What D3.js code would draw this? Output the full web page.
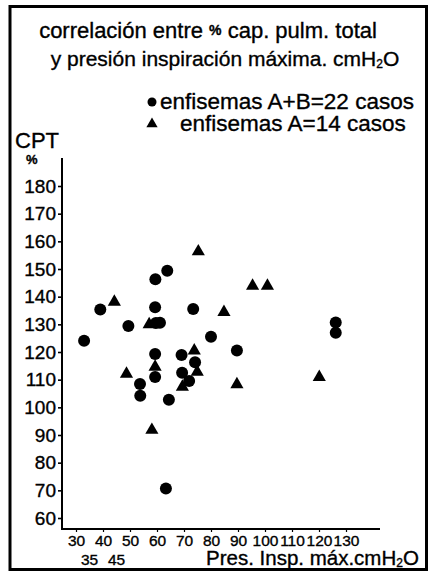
<!DOCTYPE html>
<html><head><meta charset="utf-8">
<script src="https://cdn.jsdelivr.net/npm/d3@7"></script>
<style>
html,body{margin:0;padding:0;background:#fff;}
svg{display:block;font-family:"Liberation Sans", Arial, Helvetica, sans-serif;}
svg text{stroke:#000;stroke-width:0.35px;}
</style></head><body>
<svg id="chart" width="428" height="572"></svg>
<script>
// ---- data ----
const titleLine1 = ["correlación entre ", "%", " cap. pulm. total"];
const titleLine2 = ["y presión inspiración máxima. cmH", "2", "O"];
const legendNames = ["enfisemas A+B=22 casos", "enfisemas A=14 casos"];
const yAxisTitle = ["CPT", "%"];
const xAxisTitle = ["Pres. Insp. máx.cmH", "2", "O"];
const yTicks = [60, 70, 80, 90, 100, 110, 120, 130, 140, 150, 160, 170, 180];
const xTicks = [30, 40, 50, 60, 70, 80, 90, 100, 110, 120, 130];
const xTicksSecondRow = [35, 45];

// enfisemas A+B (circles): presión insp. máx (cmH2O), CPT (%)
const circlesX = [33, 39, 49.4, 59.4, 63.8, 59.3, 73.4, 59.6, 61.1, 80, 89.6, 59.3, 69.1, 74.1, 69.3, 71.9, 59.3, 53.7, 53.8, 64.4, 63.3, 126.2, 126.2];
const circlesY = [124.1, 135.4, 129.4, 146.3, 149.4, 136.2, 135.5, 130.5, 130.6, 125.5, 120.5, 119.3, 118.9, 116.3, 112.5, 109.5, 111, 108.4, 104.2, 102.7, 70.7, 130.7, 127];
// enfisemas A (triangles)
const trianglesX = [75.3, 95.4, 100.9, 44.2, 84.8, 57.1, 73.8, 59.3, 48.7, 74.9, 69.4, 89.6, 120.1, 58.1];
const trianglesY = [156.3, 143.9, 143.9, 138.1, 134.4, 130, 120.5, 114.6, 112.1, 112.8, 107.4, 108.3, 110.9, 91.8];

// ---- drawing ----
const svg = d3.select("#chart");
const axisX0 = 62, axisY0 = 529;
const x = d3.scaleLinear().domain([30, 130]).range([76, 346]);
const y = d3.scaleLinear().domain([60, 180]).range([518, 186]);

// frame
svg.append("rect").attr("x", 10).attr("y", 6.5).attr("width", 416.5).attr("height", 563)
  .attr("fill", "none").attr("stroke", "#000").attr("stroke-width", 3);

// title
const t1 = svg.append("text").attr("x", 208).attr("y", 38).attr("text-anchor", "middle")
  .attr("font-size", 22).attr("fill", "#000");
t1.append("tspan").text(titleLine1[0]);
t1.append("tspan").text(titleLine1[1]).attr("font-size", 14).attr("font-weight", "bold").attr("dy", -3);
t1.append("tspan").text(titleLine1[2]).attr("dy", 3);
const t2 = svg.append("text").attr("x", 225).attr("y", 66).attr("text-anchor", "middle")
  .attr("font-size", 21).attr("fill", "#000");
t2.append("tspan").text(titleLine2[0]);
t2.append("tspan").text(titleLine2[1]).attr("font-size", 12).attr("dy", 2);
t2.append("tspan").text(titleLine2[2]).attr("dy", -2);

// legend
svg.append("circle").attr("cx", 152).attr("cy", 102).attr("r", 4.5).attr("fill", "#000");
svg.append("text").attr("x", 160).attr("y", 109).attr("font-size", 22.5).attr("fill", "#000").text(legendNames[0]);
svg.append("path").attr("d", d3.symbol().type(d3.symbolTriangle).size(55)())
  .attr("transform", "translate(152,124)").attr("fill", "#000");
svg.append("text").attr("x", 180).attr("y", 131).attr("font-size", 22.5).attr("fill", "#000").text(legendNames[1]);

// y axis title
svg.append("text").attr("x", 15).attr("y", 148).attr("font-size", 22).attr("fill", "#000").text(yAxisTitle[0]);
svg.append("text").attr("x", 26).attr("y", 164).attr("font-size", 13).attr("font-weight", "bold").attr("fill", "#000").text(yAxisTitle[1]);

// axes
const gy = svg.append("g").attr("transform", `translate(${axisX0},0)`)
  .call(d3.axisLeft(y).tickValues(yTicks).tickSize(4).tickPadding(2).tickSizeOuter(0));
gy.select(".domain").remove();
gy.selectAll(".tick line").attr("stroke", "#000").attr("stroke-width", 1.6);
gy.selectAll(".tick text").attr("font-size", 19).attr("fill", "#000").attr("font-family", "Liberation Sans, Arial, sans-serif");

const gx = svg.append("g").attr("transform", `translate(0,${axisY0})`)
  .call(d3.axisBottom(x).tickValues(xTicks).tickSize(3).tickPadding(3).tickSizeOuter(0));
gx.select(".domain").remove();
gx.selectAll(".tick line").attr("stroke", "#000").attr("stroke-width", 1.2);
gx.selectAll(".tick text").attr("font-size", 15.5).attr("fill", "#000").attr("font-family", "Liberation Sans, Arial, sans-serif");

svg.append("line").attr("x1", axisX0).attr("x2", axisX0).attr("y1", 158).attr("y2", axisY0 + 1)
  .attr("stroke", "#000").attr("stroke-width", 2);
svg.append("line").attr("x1", axisX0 - 1).attr("x2", 380).attr("y1", axisY0).attr("y2", axisY0)
  .attr("stroke", "#000").attr("stroke-width", 2);

svg.selectAll("text.x2").data(xTicksSecondRow).enter().append("text").attr("class", "x2")
  .attr("x", d => x(d)).attr("y", 565).attr("text-anchor", "middle").attr("font-size", 15.5).attr("fill", "#000").text(d => d);

const xt = svg.append("text").attr("x", 206).attr("y", 565).attr("font-size", 20.5).attr("fill", "#000");
xt.append("tspan").text(xAxisTitle[0]);
xt.append("tspan").text(xAxisTitle[1]).attr("font-size", 12).attr("dy", 2);
xt.append("tspan").text(xAxisTitle[2]).attr("dy", -2);

// points
svg.append("g").selectAll("circle").data(circlesX.map((v, i) => [v, circlesY[i]])).enter()
  .append("circle").attr("cx", d => x(d[0])).attr("cy", d => y(d[1])).attr("r", 6).attr("fill", "#000");
const tri = d3.symbol().type(d3.symbolTriangle).size(75)();
svg.append("g").selectAll("path").data(trianglesX.map((v, i) => [v, trianglesY[i]])).enter()
  .append("path").attr("d", tri).attr("transform", d => `translate(${x(d[0])},${y(d[1])})`).attr("fill", "#000");
</script>
</body></html>
